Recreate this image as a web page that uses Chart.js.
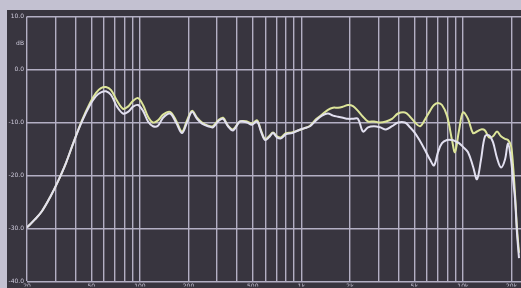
<!DOCTYPE html>
<html>
<head>
<meta charset="utf-8">
<script src="https://cdn.jsdelivr.net/npm/chart.js@4/dist/chart.umd.min.js"></script>
<style>
  html, body { margin: 0; padding: 0; }
  body { width: 521px; height: 288px; background: #c3c1d1; position: relative; overflow: hidden; }
  #wrap { position: absolute; left: 7px; top: 10px; width: 514px; height: 278px; background: #38353f; }
  canvas { display: block; }
</style>
</head>
<body>
<div id="wrap"><canvas id="c" width="514" height="278"></canvas></div>
<script>
// Frequency points (Hz)
const freqs = [20, 22.4, 24.8, 27.8, 31.1, 34.9, 39.1, 43.8, 49.1, 53.5, 57.4, 61.7, 66.3, 72.2, 78.6, 84.4, 90.7, 97.4,
  104.6, 112.3, 120.6, 129.5, 139.1, 153.6, 167.4, 182.3, 195.8, 210.2, 225.8, 242.5, 264.1, 283.6, 304.6, 327.1, 351.3,
  377.3, 416.9, 460.6, 494.6, 531.1, 562.3, 595.3, 630.2, 667.2, 706.4, 747.9, 803.2, 875.0, 953.1, 1038, 1131, 1231,
  1342, 1461, 1570, 1686, 1811, 1945, 2087, 2241, 2407, 2585, 2816, 3068, 3342, 3640, 3965, 4381, 4704, 5053, 5427,
  5829, 6259, 6626, 7013, 7424, 7973, 8562, 8936, 9462, 10019, 10758, 11553, 12230, 12948, 13709, 14512, 15364, 16266,
  17219, 18230, 19027, 19858, 20432, 21024, 21632, 22258];

// Yellow trace (dB)
const yellowDb = [-29.8, -28.3, -26.7, -24.1, -21.1, -17.6, -13.5, -9.6, -6.3, -4.4, -3.5, -3.3, -3.9, -5.9, -7.4, -7.0, -5.9, -5.4,
  -6.7, -8.9, -10.0, -9.6, -8.5, -8.0, -9.6, -11.7, -9.6, -7.8, -9.1, -10.0, -10.6, -10.7, -9.6, -9.1, -10.6,
  -11.3, -9.8, -9.8, -10.2, -9.6, -11.5, -13.1, -12.6, -11.9, -12.6, -12.8, -12.0, -11.9, -11.5, -11.1, -10.6, -9.4,
  -8.5, -7.6, -7.2, -7.2, -7.0, -6.7, -6.9, -7.8, -8.9, -9.8, -9.8, -10.0, -9.8, -9.3, -8.3, -8.1, -8.9, -10.0, -10.7,
  -9.4, -7.8, -6.7, -6.3, -6.7, -8.7, -13.3, -15.6, -11.5, -8.1, -9.3, -12.0, -11.7, -11.3, -11.5, -12.8, -12.6, -11.7,
  -12.6, -13.1, -13.3, -14.4, -18.0, -23.5, -30.0, -34.6];

// White trace (dB)
const whiteDb = [-29.8, -28.3, -26.7, -24.1, -21.1, -17.6, -13.5, -9.8, -6.7, -5.0, -4.3, -4.1, -4.8, -7.0, -8.3, -8.0, -7.0, -6.7,
  -7.8, -9.8, -10.7, -10.6, -9.1, -8.3, -10.0, -12.0, -10.0, -8.0, -9.3, -10.2, -10.7, -10.9, -9.8, -9.3, -10.7,
  -11.5, -9.8, -10.0, -10.4, -9.8, -11.7, -13.3, -12.8, -12.0, -12.8, -13.0, -12.2, -12.0, -11.5, -11.1, -10.7, -9.6,
  -8.7, -8.3, -8.7, -8.9, -9.1, -9.3, -9.3, -9.3, -11.7, -10.9, -10.7, -10.9, -11.3, -10.7, -10.0, -10.0, -10.9, -12.0, -13.5,
  -15.2, -17.0, -18.1, -15.6, -13.9, -13.3, -13.3, -13.5, -13.9, -14.6, -15.6, -18.3, -20.7, -17.0, -12.6, -12.4, -13.7, -16.7,
  -18.5, -17.0, -13.9, -17.0, -20.7, -24.4, -30.9, -35.6];

// Axis ticks
const yTickValues = [10, 5, 0, -10, -20, -30, -40];
const yTickLabels = ['10.0', 'dB', '0.0', '-10.0', '-20.0', '-30.0', '-40.0'];
const xTickValues = [20, 30, 40, 50, 60, 70, 80, 90, 100, 200, 300, 400, 500, 600, 700, 800, 900,
  1000, 2000, 3000, 4000, 5000, 6000, 7000, 8000, 9000, 10000, 20000];
const xTickLabels = {20: '20', 50: '50', 100: '100', 200: '200', 500: '500', 1000: '1k', 2000: '2k', 5000: '5k', 10000: '10k', 20000: '20k'};

const yellowData = freqs.map((f, i) => ({x: f, y: yellowDb[i]}));
const whiteData = freqs.map((f, i) => ({x: f, y: whiteDb[i]}));

new Chart(document.getElementById('c'), {
  type: 'line',
  data: {
    datasets: [
      { label: 'B', data: whiteData, borderColor: '#e2e0f0', borderWidth: 2, pointRadius: 0, tension: 0.35, fill: false },
      { label: 'A', data: yellowData, borderColor: '#dde59a', borderWidth: 2, pointRadius: 0, tension: 0.35, fill: false }
    ]
  },
  options: {
    responsive: false,
    animation: false,
    layout: { padding: { top: 3, right: 0, left: 0, bottom: 0 } },
    plugins: { legend: { display: false }, tooltip: { enabled: false } },
    scales: {
      x: {
        type: 'logarithmic',
        min: 20,
        max: 22900,
        afterBuildTicks: (scale) => { scale.ticks = xTickValues.map(v => ({value: v})); },
        afterFit: (scale) => { scale.height = 5; scale.paddingLeft = 0; scale.paddingRight = 0; },
        ticks: {
          autoSkip: false, maxRotation: 0, minRotation: 0, padding: 1,
          color: '#cfcbdc', font: { size: 6, family: 'DejaVu Sans' },
          callback: (v) => xTickLabels[v] || ''
        },
        grid: { color: '#b3afc4', lineWidth: 1.4, drawTicks: false },
        border: { display: false }
      },
      y: {
        type: 'linear',
        min: -40,
        max: 10,
        afterBuildTicks: (scale) => { scale.ticks = yTickValues.map(v => ({value: v})); },
        afterFit: (scale) => { scale.width = 20; },
        ticks: {
          padding: 3, color: '#cfcbdc', font: { size: 6, family: 'DejaVu Sans' },
          callback: (v) => { const i = yTickValues.indexOf(v); return i >= 0 ? yTickLabels[i] : ''; }
        },
        grid: {
          color: (ctx) => (ctx.tick && ctx.tick.value === 5) ? 'rgba(0,0,0,0)' : '#b3afc4',
          lineWidth: 1.4, drawTicks: false
        },
        border: { display: false }
      }
    }
  }
});
</script>
</body>
</html>
